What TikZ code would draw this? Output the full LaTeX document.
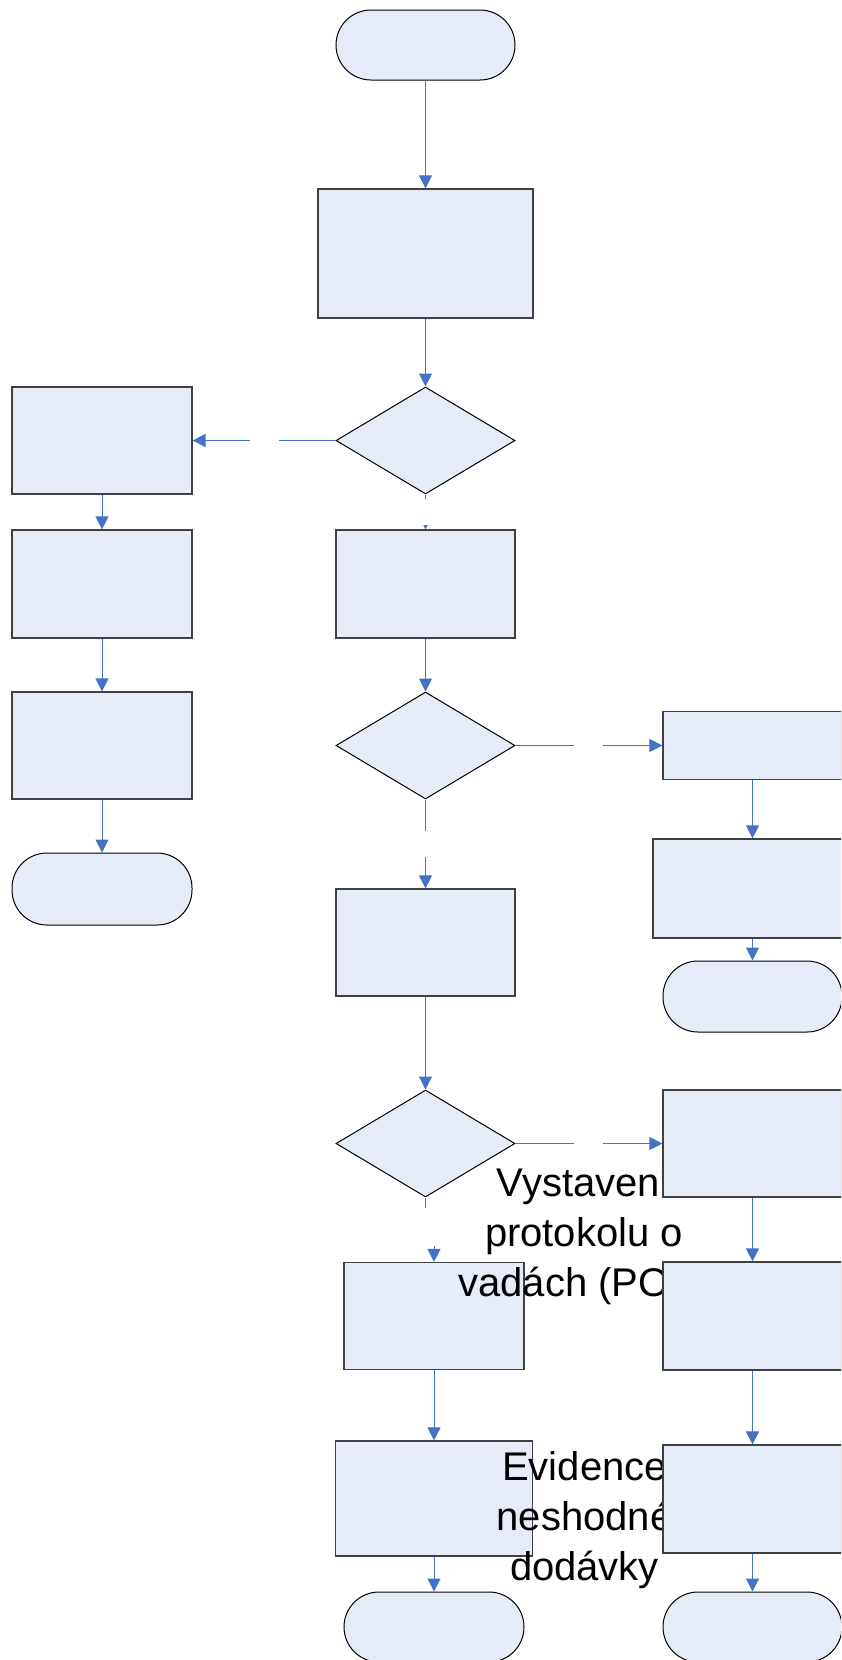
\documentclass[tikz,border=0pt]{standalone}
\usepackage{fontspec}
\setmainfont{Liberation Sans}
\usepackage{xcolor}
\usepackage{tikz}
\usetikzlibrary{shapes,arrows,positioning,calc,arrows.meta}

\definecolor{boxfill}{HTML}{E6ECF7}
\definecolor{flowblue}{HTML}{4472C4}

\tikzset{
    proc/.style={rectangle, draw=black!75, fill=boxfill, line width=1.2pt, inner sep=0pt},
    decision/.style={diamond, draw=black, fill=boxfill, line width=1pt, inner sep=0pt,
        minimum width=179pt, minimum height=107pt},
    term/.style={rectangle, rounded corners=35pt, draw=black, fill=boxfill, line width=1pt,
        inner sep=0pt, minimum width=179pt, minimum height=70pt},
    flow/.style={draw=flowblue, line width=1pt, -{Triangle[length=13pt,width=13pt]}},
    labelgap/.style={fill=white, inner sep=0pt, minimum width=29pt, minimum height=26pt},
    note/.style={font=\fontsize{40pt}{50pt}\selectfont, align=center, inner sep=0pt}
}

\begin{document}
\begin{tikzpicture}[x=1pt, y=-1pt]
    \useasboundingbox (0,0) rectangle (841,1660);
    \clip (0,0) rectangle (841,1660);

    % Main column
    \node[term] (start) at (425.5,45) {};
    \node[proc, minimum width=215pt, minimum height=129pt] (main1) at (425.5,253.5) {};
    \node[decision] (dec1) at (425.5,440.5) {};
    \node[proc, minimum width=179pt, minimum height=108pt] (main2) at (425.5,584) {};
    \node[decision] (dec2) at (425.5,745.5) {};
    \node[proc, minimum width=179pt, minimum height=107pt] (main3) at (425.5,942.5) {};
    \node[decision] (dec3) at (425.5,1143.5) {};
    \node[proc, minimum width=180pt, minimum height=107pt] (main4) at (434,1316) {};
    \node[proc, minimum width=197pt, minimum height=115pt] (main5) at (434,1498.5) {};
    \node[term, minimum width=180pt] (endmain) at (434,1627) {};

    % Left column
    \node[proc, minimum width=180pt, minimum height=107pt] (left1) at (102,440.5) {};
    \node[proc, minimum width=180pt, minimum height=108pt] (left2) at (102,584) {};
    \node[proc, minimum width=180pt, minimum height=107pt] (left3) at (102,745.5) {};
    \node[term, minimum width=180pt, minimum height=72pt] (endleft) at (102,889) {};

    % Texts (base = last line)
    \node[note, anchor=base] (protocol) at (584,1296) {Vystavení\\protokolu o\\vadách (POV)};
    \node[note, anchor=base] (record) at (584.5,1580) {Evidence\\neshodné\\dodávky};

    % Right column
    \node[proc, minimum width=179pt, minimum height=68pt] (right1) at (752.5,745.5) {};
    \node[proc, minimum width=199pt, minimum height=99pt] (right2) at (752.5,888.5) {};
    \node[term, minimum height=71pt] (endright1) at (752.5,996.5) {};
    \node[proc, minimum width=179pt, minimum height=107pt] (right3) at (752.5,1143.5) {};
    \node[proc, minimum width=179pt, minimum height=108pt] (right4) at (752.5,1316) {};
    \node[proc, minimum width=179pt, minimum height=108pt] (right5) at (752.5,1499) {};
    \node[term] (endright2) at (752.5,1627) {};

    % Connectors
    \draw[flow] (start) -- (main1);
    \draw[flow] (main1) -- (dec1);
    \draw[flow] (dec1.west) -- node[labelgap] (gap1) {} (left1.east);
    \draw[flow] (dec1.south) -- node[labelgap] (gap2) {} (main2.north);
    \draw[flow] (main2) -- (dec2);
    \draw[flow] (dec2.east) -- node[labelgap] (gap3) {} (right1.west);
    \draw[flow] (dec2.south) -- node[labelgap] (gap4) {} (main3.north);
    \draw[flow] (main3) -- (dec3);
    \draw[flow] (dec3.east) -- node[labelgap] (gap5) {} (right3.west);
    \draw[flow] (dec3.south) -- ++(0,29) -| node[labelgap, minimum width=30pt, minimum height=38pt] (gap6) {} (main4.north);
    \draw[flow] (main4) -- (main5);
    \draw[flow] (main5) -- (endmain);

    \draw[flow] (left1) -- (left2);
    \draw[flow] (left2) -- (left3);
    \draw[flow] (left3) -- (endleft);

    \draw[flow] (right1) -- (right2);
    \draw[flow] (right2) -- (endright1);
    \draw[flow] (right3) -- (right4);
    \draw[flow] (right4) -- (right5);
    \draw[flow] (right5) -- (endright2);
\end{tikzpicture}
\end{document}
